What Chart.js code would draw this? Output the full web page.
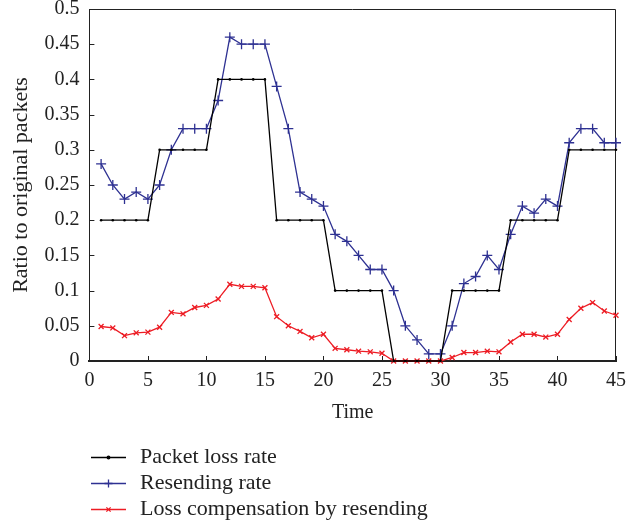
<!DOCTYPE html>
<html>
<head>
<meta charset="utf-8">
<title>Packet loss and resending</title>
<script src="https://cdn.jsdelivr.net/npm/chart.js@4/dist/chart.umd.min.js"></script>
<style>
  body { margin: 0; background: #fff; }
  #wrap { width: 626px; height: 529px; }
</style>
</head>
<body>
<div id="wrap"><canvas id="grafica" width="626" height="529"></canvas></div>
<script>
// data
const times = [1, 2, 3, 4, 5, 6, 7, 8, 9, 10, 11, 12, 13, 14, 15, 16, 17, 18, 19, 20, 21, 22, 23,
  24, 25, 26, 27, 28, 29, 30, 31, 32, 33, 34, 35, 36, 37, 38, 39, 40, 41, 42, 43, 44, 45];
const packetLoss = [0.2, 0.2, 0.2, 0.2, 0.2, 0.3, 0.3, 0.3, 0.3, 0.3, 0.4, 0.4, 0.4, 0.4, 0.4,
  0.2, 0.2, 0.2, 0.2, 0.2, 0.1, 0.1, 0.1, 0.1, 0.1, 0, 0, 0, 0, 0, 0.1, 0.1, 0.1, 0.1, 0.1,
  0.2, 0.2, 0.2, 0.2, 0.2, 0.3, 0.3, 0.3, 0.3, 0.3];
const resending = [0.28, 0.25, 0.23, 0.24, 0.23, 0.25, 0.30, 0.33, 0.33, 0.33, 0.37, 0.46, 0.45, 0.45, 0.45,
  0.39, 0.33, 0.24, 0.23, 0.22, 0.18, 0.17, 0.15, 0.13, 0.13, 0.10, 0.05, 0.03, 0.01, 0.01,
  0.05, 0.11, 0.12, 0.15, 0.13, 0.18, 0.22, 0.21, 0.23, 0.22, 0.31, 0.33, 0.33, 0.31, 0.31];
const compensation = [0.049, 0.047, 0.036, 0.040, 0.041, 0.048, 0.069, 0.067, 0.076, 0.079, 0.088, 0.109, 0.106, 0.106, 0.104,
  0.063, 0.050, 0.042, 0.033, 0.038, 0.018, 0.016, 0.014, 0.013, 0.011, 0, 0, 0, 0, 0,
  0.005, 0.012, 0.012, 0.014, 0.013, 0.027, 0.038, 0.038, 0.034, 0.038, 0.059, 0.075, 0.083, 0.071, 0.065];
const xTicks = [0, 5, 10, 15, 20, 25, 30, 35, 40, 45];
const yTicks = [0, 0.05, 0.1, 0.15, 0.2, 0.25, 0.3, 0.35, 0.4, 0.45, 0.5];
const seriesNames = ['Packet loss rate', 'Resending rate', 'Loss compensation by resending'];

const TEXT = '#222';
const SERIF = '"Liberation Serif", "Times New Roman", serif';
const puntos = (vals) => times.map((t, i) => ({ x: t, y: vals[i] }));

// frame on top/right + ticks pointing inward
const marco = {
  id: 'marco',
  beforeDatasetsDraw(chart) {
    const { ctx, chartArea: a, scales } = chart;
    ctx.save();
    ctx.strokeStyle = TEXT;
    ctx.lineWidth = 1;
    ctx.beginPath();
    ctx.moveTo(a.left, a.top + 0.5);
    ctx.lineTo(a.right - 0.5, a.top + 0.5);
    ctx.lineTo(a.right - 0.5, a.bottom);
    ctx.stroke();
    ctx.beginPath();
    scales.x.ticks.forEach(t => {
      const px = Math.round(scales.x.getPixelForValue(t.value)) + 0.5;
      ctx.moveTo(px, a.bottom);
      ctx.lineTo(px, a.bottom - 5);
    });
    scales.y.ticks.forEach(t => {
      const py = Math.round(scales.y.getPixelForValue(t.value)) + 0.5;
      ctx.moveTo(a.left, py);
      ctx.lineTo(a.left + 5, py);
    });
    ctx.stroke();
    ctx.restore();
  }
};

// vertical legend under the axis
const leyenda = {
  id: 'leyenda',
  afterDraw(chart) {
    const ctx = chart.ctx;
    const rows = [457, 483, 509];
    ctx.save();
    chart.data.datasets.forEach((ds, i) => {
      const y = rows[i];
      ctx.strokeStyle = ds.borderColor;
      ctx.lineWidth = 1.3;
      ctx.beginPath();
      ctx.moveTo(91, y + 0.5);
      ctx.lineTo(126, y + 0.5);
      ctx.stroke();
      ctx.fillStyle = ds.borderColor;
      Chart.helpers.drawPoint(ctx, {
        pointStyle: ds.pointStyle, rotation: 0,
        radius: ds.legendRadius, borderWidth: 1.3
      }, 108.5, y + 0.5);
      ctx.fillStyle = TEXT;
      ctx.font = '22px ' + SERIF;
      ctx.textBaseline = 'middle';
      ctx.textAlign = 'left';
      ctx.fillText(ds.label, 140, y);
    });
    ctx.restore();
  }
};

function Grafica() {
  Chart.defaults.font.family = SERIF;
  Chart.defaults.font.size = 20;
  Chart.defaults.color = TEXT;

  const canvas2d = document.getElementById('grafica').getContext('2d');
  new Chart(canvas2d, {
    type: 'line',
    data: {
      datasets: [
        {
          label: seriesNames[0], data: puntos(packetLoss),
          borderColor: '#000', backgroundColor: '#000', borderWidth: 1.3,
          pointStyle: 'circle', pointRadius: 1.3, pointBorderWidth: 0,
          legendRadius: 1.3, tension: 0, clip: false
        },
        {
          label: seriesNames[1], data: puntos(resending),
          borderColor: '#2e3192', backgroundColor: '#2e3192', borderWidth: 1.3,
          pointStyle: 'cross', pointRadius: 5, pointBorderWidth: 1.3,
          legendRadius: 4, tension: 0, clip: false
        },
        {
          label: seriesNames[2], data: puntos(compensation),
          borderColor: '#ed1c24', backgroundColor: '#ed1c24', borderWidth: 1.3,
          pointStyle: 'crossRot', pointRadius: 3.5, pointBorderWidth: 1.3,
          legendRadius: 3, tension: 0, clip: false
        }
      ]
    },
    options: {
      responsive: false,
      animation: false,
      layout: { padding: { left: 3, right: 10, top: 9, bottom: 92 } },
      plugins: { legend: { display: false }, tooltip: { enabled: false } },
      elements: { point: { hoverRadius: 0 } },
      scales: {
        x: {
          type: 'linear', min: 0, max: 45,
          afterBuildTicks: s => { s.ticks = xTicks.map(v => ({ value: v })); },
          afterFit: s => { s.paddingLeft = 0; s.paddingRight = 0; },
          grid: { display: false, drawTicks: false, tickLength: 0 },
          border: { display: true, color: TEXT, width: 2 },
          ticks: { padding: 8, maxRotation: 0, callback: v => String(v) },
          title: { display: true, text: 'Time', padding: { top: 0, bottom: 12 } }
        },
        y: {
          min: 0, max: 0.5,
          afterBuildTicks: s => { s.ticks = yTicks.map(v => ({ value: v })); },
          afterFit: s => { s.paddingTop = 0; s.paddingBottom = 0; },
          grid: { display: false, drawTicks: false, tickLength: 0 },
          border: { display: true, color: TEXT, width: 1 },
          ticks: { padding: 10, callback: v => String(+(+v).toFixed(2)) },
          title: {
            display: true, text: 'Ratio to original packets',
            font: { size: 22 }, padding: { top: 5, bottom: 0 }
          }
        }
      }
    },
    plugins: [marco, leyenda]
  });
}

document.addEventListener('DOMContentLoaded', () => {
  Grafica();
});
</script>
</body>
</html>
